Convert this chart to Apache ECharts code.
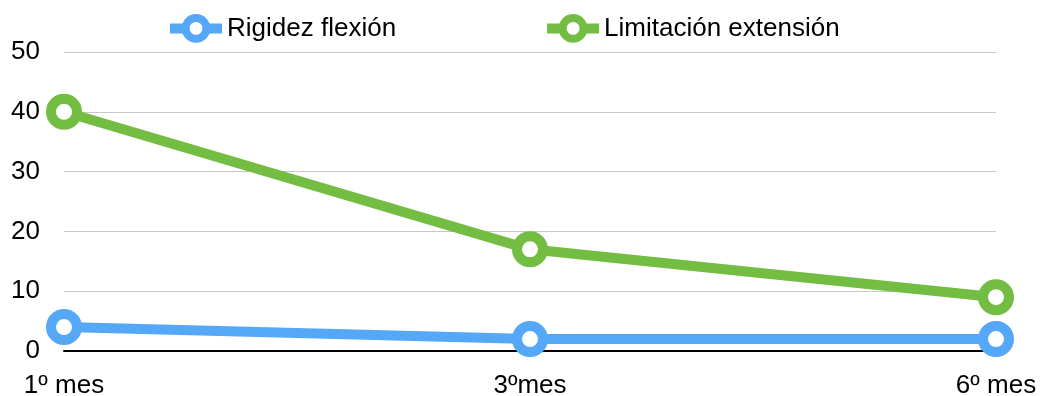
<!DOCTYPE html>
<html>
<head>
<meta charset="utf-8">
<script src="https://cdn.jsdelivr.net/npm/echarts@6/dist/echarts.min.js"></script>
<style>
  html, body { margin: 0; padding: 0; background: #ffffff; }
  #chart { width: 1042px; height: 396px; }
</style>
</head>
<body>
<div id="chart"></div>
<script>
// Months after surgery
const categories = ['1º mes', '3ºmes', '6º mes'];
// Percentage of patients with flexion stiffness
const rigidezFlexion = [4, 2, 2];
// Percentage of patients with limited extension
const limitacionExtension = [40, 17, 9];
// Value axis ticks
const yTicks = [0, 10, 20, 30, 40, 50];

const FONT = '"Liberation Sans", Arial, Helvetica, sans-serif';
const FONT_SIZE = 26;
const BLUE = '#55a8f7';
const GREEN = '#74bd43';

const chart = echarts.init(document.getElementById('chart'), null, { renderer: 'canvas' });

function lineSeries(name, data, color) {
  return {
    name: name,
    type: 'line',
    data: data,
    symbol: 'circle',
    symbolSize: 26,
    showAllSymbol: true,
    lineStyle: { color: color, width: 10 },
    itemStyle: { color: '#ffffff', borderColor: color, borderWidth: 10 },
    emphasis: { disabled: true },
    z: 3
  };
}

chart.setOption({
  animation: false,
  backgroundColor: '#ffffff',
  textStyle: { fontFamily: FONT },
  legend: {
    top: 9,
    left: 160,
    itemWidth: 52,
    itemHeight: 26,
    itemGap: 146,
    textStyle: { fontFamily: FONT, fontSize: FONT_SIZE, color: '#000000' },
    data: [
      { name: 'Rigidez flexión', itemStyle: { color: '#ffffff', borderColor: BLUE, borderWidth: 8 }, lineStyle: { color: BLUE, width: 10 } },
      { name: 'Limitación extensión', itemStyle: { color: '#ffffff', borderColor: GREEN, borderWidth: 8 }, lineStyle: { color: GREEN, width: 10 } }
    ]
  },
  grid: { left: 64, right: 46, top: 52, bottom: 45, containLabel: false, outerBoundsMode: 'none' },
  xAxis: {
    type: 'category',
    data: categories,
    boundaryGap: false,
    axisLine: { show: true, lineStyle: { color: '#000000', width: 2 } },
    axisTick: { show: false },
    axisLabel: { color: '#000000', fontSize: FONT_SIZE, fontFamily: FONT, margin: 22 },
    splitLine: { show: false }
  },
  yAxis: {
    type: 'value',
    min: yTicks[0],
    max: yTicks[yTicks.length - 1],
    interval: 10,
    axisLine: { show: false },
    axisTick: { show: false },
    axisLabel: { color: '#000000', fontSize: FONT_SIZE, fontFamily: FONT, margin: 24 },
    splitLine: { show: true, lineStyle: { color: '#c8c8c8', width: 1 } }
  },
  series: [
    lineSeries('Rigidez flexión', rigidezFlexion, BLUE),
    lineSeries('Limitación extensión', limitacionExtension, GREEN)
  ]
});
</script>
</body>
</html>
